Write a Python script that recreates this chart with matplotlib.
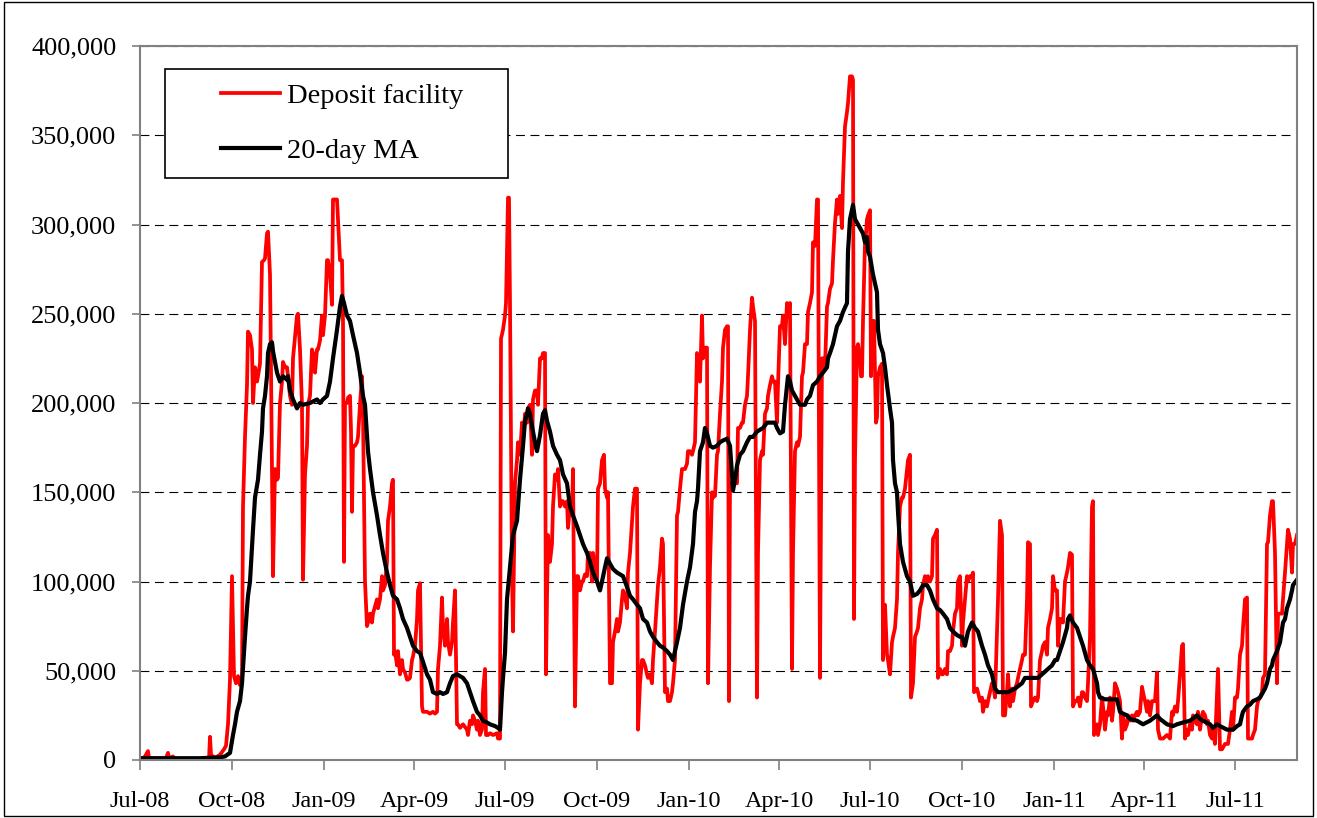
import numpy as np
import pandas as pd
import matplotlib
matplotlib.use("Agg")
import matplotlib.pyplot as plt
import matplotlib.dates as mdates
from matplotlib.ticker import FuncFormatter
from matplotlib.legend_handler import HandlerLine2D

plt.rcParams['font.family'] = ['Liberation Serif', 'DejaVu Serif']

START = pd.Timestamp("2008-07-01")

# recourse to the deposit facility, (days since 1 Jul 2008, value / 1000)
deposit = [
    (0, 1), (3, 1), (5, 2), (8, 5), (9, 1), (12, 1), (20, 1), (26, 1), (28, 4), (29, 1), (33, 2), (34, 1),
    (40, 0.5), (60, 0.5), (69, 0.5), (70, 13), (71, 3), (75, 1), (80, 3), (84, 6), (86, 8), (88, 20),
    (90, 45), (92, 103), (94, 47), (96, 43), (98, 47), (100, 42), (102, 45), (103, 142), (105, 181),
    (107, 210), (108, 240), (110, 238), (112, 230), (113, 200), (115, 220), (117, 212), (118, 215),
    (120, 222), (122, 279), (124, 280), (125, 281), (127, 295), (128, 296), (130, 272), (131, 220),
    (133, 103), (135, 163), (137, 157), (138, 158), (140, 200), (142, 212), (143, 223), (145, 220),
    (147, 220), (148, 215), (150, 204), (152, 199), (153, 225), (157, 249), (158, 250), (160, 230),
    (162, 199), (163, 101), (165, 160), (167, 176), (168, 199), (170, 204), (172, 230), (173, 228),
    (175, 217), (177, 230), (178, 230), (180, 235), (182, 249), (183, 238), (185, 249), (187, 280),
    (188, 280), (190, 272), (192, 255), (193, 314), (195, 314), (197, 314), (198, 303), (200, 280),
    (202, 280), (203, 246), (204, 111), (205, 200), (207, 200), (208, 203), (210, 204), (211, 185),
    (212, 139), (213, 176), (215, 176), (217, 178), (218, 181), (220, 199), (222, 215), (223, 194),
    (225, 100), (227, 75), (228, 77), (230, 82), (232, 77), (233, 82), (235, 86), (237, 90), (238, 85),
    (240, 90), (242, 103), (243, 95), (245, 98), (247, 111), (248, 134), (250, 142), (252, 155),
    (253, 157), (254, 59), (255, 61), (257, 53), (258, 61), (260, 48), (262, 56), (263, 51), (265, 49),
    (267, 45), (268, 45), (270, 46), (272, 56), (273, 58), (275, 64), (277, 79), (278, 95), (280, 99),
    (282, 30), (283, 27), (287, 27), (290, 26), (293, 27), (295, 26), (297, 27), (298, 51), (300, 64),
    (302, 91), (303, 74), (305, 64), (307, 79), (308, 66), (310, 59), (312, 66), (313, 77), (315, 95),
    (317, 20), (318, 20), (320, 18), (323, 20), (327, 17), (328, 14), (330, 22), (332, 20), (333, 25),
    (335, 22), (337, 17), (338, 22), (340, 14), (342, 17), (343, 38), (345, 51), (346, 14), (348, 14),
    (350, 15), (353, 14), (357, 15), (358, 12), (360, 12), (361, 236), (363, 241), (365, 249),
    (366, 256), (368, 315), (369, 315), (370, 256), (372, 103), (373, 72), (375, 155), (377, 168),
    (378, 178), (380, 171), (382, 189), (383, 178), (385, 194), (387, 189), (388, 197), (390, 199),
    (392, 171), (393, 202), (395, 207), (397, 207), (398, 199), (400, 225), (402, 225), (403, 228),
    (405, 228), (406, 48), (407, 90), (408, 126), (410, 111), (412, 121), (413, 142), (415, 160),
    (417, 157), (418, 163), (420, 142), (422, 145), (423, 145), (425, 142), (427, 145), (428, 130),
    (430, 142), (432, 139), (433, 163), (435, 30), (437, 103), (438, 103), (440, 95), (442, 100),
    (443, 100), (445, 104), (447, 103), (448, 116), (450, 116), (452, 100), (453, 116), (455, 108),
    (457, 100), (458, 152), (460, 155), (462, 168), (464, 171), (465, 152), (467, 147), (468, 150),
    (470, 43), (472, 43), (473, 66), (475, 72), (477, 79), (478, 72), (480, 77), (482, 90), (483, 95),
    (485, 92), (487, 85), (488, 105), (490, 116), (493, 142), (495, 152), (497, 152), (498, 17),
    (500, 43), (502, 56), (503, 56), (505, 53), (507, 48), (508, 46), (510, 48), (512, 43), (513, 56),
    (515, 72), (517, 90), (518, 98), (520, 108), (522, 124), (523, 121), (525, 38), (527, 40),
    (528, 33), (530, 33), (532, 38), (533, 43), (535, 56), (537, 137), (538, 139), (540, 152),
    (542, 163), (543, 163), (545, 163), (547, 166), (548, 173), (550, 173), (552, 171), (553, 173),
    (555, 178), (557, 228), (558, 225), (560, 212), (562, 249), (563, 225), (565, 231), (567, 231),
    (568, 43), (570, 108), (572, 150), (573, 147), (575, 148), (577, 171), (578, 173), (580, 194),
    (582, 212), (583, 231), (585, 241), (587, 243), (588, 243), (589, 33), (590, 155), (592, 155),
    (593, 155), (595, 160), (597, 155), (598, 186), (600, 186), (602, 189), (603, 189), (605, 199),
    (607, 204), (608, 215), (610, 241), (612, 259), (613, 254), (615, 246), (617, 35), (618, 116),
    (620, 168), (622, 173), (623, 171), (625, 194), (627, 197), (628, 204), (630, 210), (632, 215),
    (633, 212), (635, 212), (637, 189), (638, 210), (640, 243), (642, 243), (643, 249), (645, 233),
    (647, 256), (648, 249), (650, 256), (652, 51), (653, 116), (655, 173), (657, 178), (658, 176),
    (660, 181), (662, 215), (663, 217), (665, 233), (667, 233), (668, 251), (670, 256), (672, 262),
    (673, 290), (675, 288), (677, 314), (678, 314), (680, 46), (681, 142), (682, 225), (683, 225),
    (685, 220), (687, 254), (688, 256), (690, 264), (692, 267), (693, 280), (695, 301), (697, 314),
    (698, 306), (700, 316), (702, 298), (703, 324), (705, 355), (707, 363), (708, 368), (710, 383),
    (712, 383), (713, 381), (714, 79), (715, 168), (717, 231), (718, 233), (720, 225), (721, 215),
    (722, 215), (723, 246), (725, 290), (726, 295), (727, 303), (728, 305), (730, 308), (731, 215),
    (732, 246), (734, 246), (736, 189), (737, 192), (738, 215), (740, 220), (742, 222), (743, 56),
    (744, 85), (745, 87), (747, 59), (748, 56), (750, 48), (752, 66), (753, 69), (755, 74), (757, 90),
    (758, 116), (760, 142), (762, 147), (763, 147), (765, 152), (767, 163), (768, 168), (770, 171),
    (771, 35), (773, 43), (775, 69), (777, 72), (778, 74), (780, 85), (782, 90), (783, 98), (785, 103),
    (787, 100), (788, 103), (790, 100), (792, 103), (793, 124), (795, 126), (797, 129), (798, 46),
    (800, 51), (802, 48), (803, 48), (805, 51), (807, 48), (808, 61), (810, 61), (812, 64), (813, 72),
    (815, 82), (817, 85), (818, 100), (820, 103), (822, 64), (823, 77), (825, 90), (827, 103),
    (828, 100), (830, 103), (832, 103), (833, 105), (834, 38), (837, 40), (838, 38), (840, 33),
    (842, 35), (843, 27), (845, 33), (847, 30), (848, 33), (850, 38), (852, 43), (853, 43), (855, 35),
    (857, 72), (858, 90), (860, 134), (862, 126), (863, 25), (865, 25), (867, 38), (868, 48), (870, 30),
    (872, 40), (873, 33), (875, 40), (877, 43), (878, 46), (880, 51), (882, 56), (883, 59), (885, 59),
    (887, 90), (888, 122), (890, 121), (891, 30), (893, 33), (895, 35), (897, 33), (898, 35), (900, 56),
    (902, 61), (903, 64), (905, 66), (907, 59), (908, 74), (910, 79), (912, 85), (913, 103), (915, 95),
    (917, 95), (918, 64), (920, 79), (922, 79), (923, 77), (925, 100), (927, 105), (928, 108),
    (930, 116), (932, 115), (933, 30), (935, 33), (937, 33), (938, 35), (940, 30), (942, 38), (943, 38),
    (945, 35), (947, 33), (948, 43), (950, 69), (952, 142), (953, 145), (954, 14), (957, 20), (958, 14),
    (960, 20), (962, 35), (963, 30), (965, 17), (967, 27), (968, 25), (970, 35), (972, 22), (973, 27),
    (975, 43), (977, 40), (978, 38), (980, 33), (982, 12), (983, 25), (985, 17), (987, 20), (988, 25),
    (990, 22), (992, 25), (993, 22), (995, 25), (997, 27), (998, 25), (1000, 27), (1002, 41),
    (1003, 38), (1005, 33), (1007, 27), (1008, 33), (1010, 25), (1012, 33), (1015, 33), (1017, 49),
    (1018, 17), (1020, 12), (1023, 12), (1027, 14), (1030, 12), (1032, 27), (1033, 25), (1035, 30),
    (1037, 27), (1038, 33), (1040, 48), (1042, 64), (1043, 65), (1045, 12), (1047, 17), (1048, 14),
    (1050, 20), (1052, 17), (1053, 25), (1055, 22), (1057, 20), (1058, 27), (1060, 17), (1062, 25),
    (1063, 27), (1065, 25), (1067, 20), (1068, 22), (1070, 14), (1072, 12), (1073, 17), (1075, 9),
    (1078, 51), (1080, 6), (1082, 6), (1085, 9), (1088, 9), (1090, 17), (1092, 27), (1093, 17),
    (1095, 35), (1097, 35), (1098, 40), (1100, 59), (1102, 64), (1103, 74), (1105, 90), (1107, 91),
    (1108, 12), (1110, 12), (1112, 12), (1113, 14), (1115, 17), (1117, 30), (1118, 33), (1120, 35),
    (1122, 38), (1123, 46), (1125, 48), (1127, 121), (1128, 122), (1130, 137), (1132, 145),
    (1133, 145), (1135, 116), (1137, 43), (1138, 82), (1140, 82), (1142, 82), (1143, 90), (1145, 105),
    (1147, 121), (1148, 129), (1150, 124), (1152, 105), (1153, 121), (1155, 121), (1157, 126),
]

# 20-day moving average
moving_avg = [
    (0, 1), (30, 1), (60, 1), (80, 1.5), (85, 2), (90, 4), (93, 14), (95, 20), (97, 27), (100, 33),
    (102, 43), (105, 69), (107, 85), (108, 92), (110, 100), (113, 129), (115, 147), (118, 157),
    (120, 171), (122, 184), (123, 197), (125, 204), (127, 215), (128, 228), (130, 233), (132, 234),
    (133, 229), (135, 223), (137, 217), (140, 212), (143, 215), (147, 213), (148, 215), (150, 207),
    (153, 202), (157, 197), (160, 200), (163, 199), (170, 200), (177, 202), (180, 200), (183, 202),
    (187, 204), (190, 212), (193, 225), (197, 241), (200, 254), (202, 260), (204, 256), (207, 249),
    (210, 246), (213, 238), (217, 228), (220, 217), (223, 204), (225, 199), (227, 181), (228, 173),
    (230, 163), (233, 150), (237, 137), (240, 126), (243, 116), (247, 105), (250, 98), (253, 92),
    (257, 90), (260, 85), (263, 79), (267, 74), (270, 69), (273, 64), (277, 61), (280, 60), (283, 55),
    (287, 48), (290, 45), (293, 38), (297, 37), (300, 38), (303, 37), (307, 38), (310, 43), (313, 47),
    (317, 48), (320, 47), (323, 46), (327, 43), (330, 38), (333, 33), (337, 27), (340, 25), (343, 22),
    (347, 21), (350, 20), (355, 19), (358, 18), (360, 17), (362, 38), (363, 46), (365, 60), (367, 90),
    (370, 108), (373, 126), (377, 134), (380, 157), (383, 176), (385, 190), (387, 194), (388, 197),
    (390, 194), (393, 184), (396, 175), (397, 173), (400, 182), (403, 194), (405, 196), (407, 190),
    (410, 184), (413, 176), (417, 171), (420, 168), (423, 160), (427, 155), (430, 142), (433, 137),
    (437, 131), (440, 126), (443, 121), (447, 116), (450, 111), (453, 105), (457, 100), (460, 95),
    (462, 100), (465, 108), (467, 113), (470, 110), (473, 107), (477, 105), (480, 104), (483, 103),
    (487, 97), (490, 92), (493, 90), (497, 87), (500, 85), (503, 79), (507, 77), (510, 72), (513, 69),
    (517, 66), (520, 64), (523, 63), (527, 61), (530, 59), (533, 56), (537, 66), (540, 74), (543, 87),
    (547, 100), (550, 108), (553, 121), (555, 139), (557, 145), (558, 152), (560, 173), (563, 178),
    (565, 186), (567, 183), (570, 176), (573, 175), (577, 176), (580, 178), (583, 179), (587, 180),
    (590, 176), (592, 160), (593, 151), (595, 157), (597, 165), (600, 171), (603, 173), (607, 178),
    (610, 181), (613, 181), (617, 184), (620, 185), (623, 186), (627, 189), (630, 189), (635, 189),
    (637, 186), (640, 183), (643, 184), (645, 199), (647, 210), (648, 215), (650, 212), (652, 207),
    (655, 204), (657, 202), (660, 199), (665, 199), (667, 202), (670, 204), (673, 210), (677, 212),
    (680, 215), (683, 217), (687, 220), (688, 225), (690, 228), (693, 233), (697, 243), (700, 246),
    (703, 251), (707, 256), (708, 285), (710, 303), (713, 311), (715, 303), (717, 301), (720, 298),
    (723, 295), (725, 290), (727, 293), (728, 285), (730, 282), (733, 272), (737, 262), (738, 241),
    (740, 233), (743, 228), (745, 220), (747, 210), (750, 197), (752, 189), (753, 168), (755, 155),
    (757, 150), (758, 139), (760, 121), (763, 111), (767, 103), (770, 100), (773, 92), (777, 93),
    (780, 95), (783, 98), (787, 98), (790, 95), (793, 90), (797, 85), (800, 84), (803, 82), (807, 79),
    (810, 74), (813, 72), (817, 70), (820, 69), (822, 69), (825, 64), (828, 72), (832, 77), (835, 74),
    (838, 72), (842, 64), (845, 59), (848, 53), (852, 48), (855, 40), (858, 38), (868, 38), (875, 40),
    (882, 43), (885, 46), (892, 46), (898, 46), (902, 48), (908, 51), (912, 53), (915, 56), (917, 56),
    (920, 61), (923, 66), (927, 74), (928, 79), (930, 81), (933, 77), (937, 74), (940, 69), (943, 64),
    (947, 56), (950, 53), (953, 51), (957, 43), (958, 38), (960, 35), (965, 34), (970, 34), (977, 34),
    (980, 27), (983, 26), (987, 25), (990, 23), (997, 22), (1003, 20), (1010, 22), (1017, 25),
    (1020, 23), (1027, 20), (1033, 19), (1037, 20), (1043, 21), (1050, 22), (1057, 25), (1060, 23),
    (1063, 22), (1070, 20), (1073, 18), (1077, 20), (1080, 19), (1087, 17), (1093, 17), (1097, 19),
    (1100, 20), (1102, 25), (1103, 27), (1107, 30), (1110, 31), (1113, 33), (1117, 34), (1120, 35),
    (1123, 38), (1125, 40), (1127, 43), (1130, 51), (1132, 53), (1133, 56), (1137, 61), (1140, 66),
    (1143, 77), (1145, 79), (1147, 85), (1150, 90), (1152, 95), (1153, 98), (1157, 101),
]

labels = ['Deposit facility', '20-day MA']
y_ticks = list(range(0, 400001, 50000))
last_day = 1157


def to_series(pairs):
    days, vals = zip(*pairs)
    dates = START + pd.to_timedelta(list(days), unit='D')
    return dates, np.array(vals) * 1000


dep_x, dep_y = to_series(deposit)
ma_x, ma_y = to_series(moving_avg)

fig = plt.figure(figsize=(13.17, 8.18), dpi=100)
ax = fig.add_axes([140 / 1317, 58 / 818, 1157 / 1317, 714 / 818])

ax.plot(dep_x, dep_y, color='#ff0000', lw=2.7, label=labels[0])
ax.plot(ma_x, ma_y, color='black', lw=3.0, label=labels[1])

ax.set_ylim(0, 400000)
ax.set_yticks(y_ticks)
ax.yaxis.set_major_formatter(FuncFormatter(lambda v, p: f"{v:,.0f}"))
ax.set_xlim(START, START + pd.Timedelta(days=last_day))
ax.xaxis.set_major_locator(mdates.MonthLocator(bymonth=[1, 4, 7, 10]))
ax.xaxis.set_major_formatter(mdates.DateFormatter('%b-%y'))

ax.grid(axis='y', color='black', lw=0.8, linestyle=(0, (8, 5)))
ax.set_axisbelow(True)

for side in ['left', 'bottom', 'right', 'top']:
    ax.spines[side].set_color('#808080')
    ax.spines[side].set_linewidth(1.5)

ax.tick_params(axis='y', labelsize=19, length=6, color='#808080', width=1.2, direction='out', pad=11)
ax.tick_params(axis='x', labelsize=17.5, length=7, color='#808080', width=1.2, direction='out', pad=15)

leg = ax.legend(loc='upper left', bbox_to_anchor=(25 / 1157, 691 / 714 - 0.3, 343 / 1157, 0.3),
                mode='expand', borderaxespad=0, fontsize=20.5, frameon=True, fancybox=False,
                edgecolor='black', framealpha=1, borderpad=0.5, handlelength=3.55,
                handletextpad=0.25, labelspacing=1.0,
                handler_map={plt.Line2D: HandlerLine2D(xpad=1.45)})
leg.get_frame().set_linewidth(1.2)

# outer chart border
fig.patches.append(plt.Rectangle((0.003, 0.003), 0.994, 0.994, transform=fig.transFigure,
                                 fill=False, edgecolor='black', lw=1.0))

fig.savefig('out.png', dpi=100)
